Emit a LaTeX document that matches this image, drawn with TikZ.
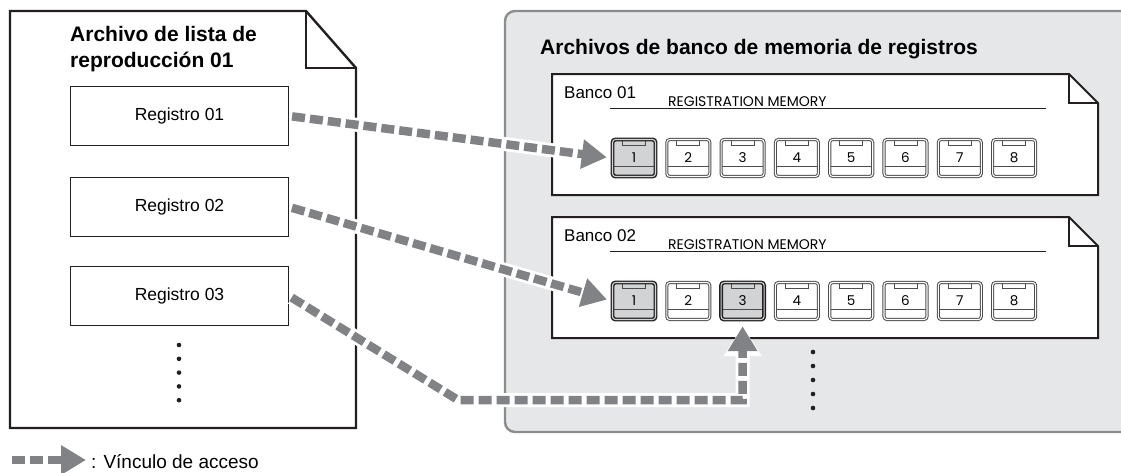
\documentclass[tikz,border=0pt]{standalone}
\usepackage{fontspec}
\setmainfont{Liberation Sans}
\newfontfamily\geofont{Poppins}
\usetikzlibrary{arrows.meta}

\definecolor{inkblack}{HTML}{231F20}
\definecolor{linkgray}{HTML}{808285}
\definecolor{panelgray}{HTML}{E6E7E8}
\definecolor{panelline}{HTML}{8A8C8E}
\definecolor{btngray}{HTML}{D1D3D4}
\definecolor{btnline}{HTML}{4D4D4F}

\begin{document}
\begin{tikzpicture}[x=1pt, y=-1pt,
    doc/.style={draw=inkblack, line width=2.4pt, line join=miter},
    fold/.style={draw=inkblack, line width=1.2pt},
    regbox/.style={draw=inkblack, line width=1.2pt, minimum width=218pt, minimum height=59pt, inner sep=0pt, font=\fontsize{17.5}{20}\selectfont},
    titletext/.style={font=\fontsize{21}{26}\selectfont\bfseries, inner sep=0pt, align=left},
    plain/.style={},
    lit/.style={fill=btngray, double=btngray, draw=inkblack, line width=1.4pt},
    membtn/.style={draw=btnline, line width=1pt, double=white, double distance=1.1pt, fill=white,
        rounded corners=3pt, minimum width=43pt, minimum height=37pt, inner sep=0pt,
        font=\geofont\fontsize{13.5}{15}\selectfont,
        path picture={
            \draw[btnline, line width=0.8pt, sharp corners] ([xshift=-11.5pt,yshift=2pt]path picture bounding box.north) rectangle ([xshift=11.5pt,yshift=-6pt]path picture bounding box.north);
            \draw[btnline, line width=0.8pt, sharp corners] ([yshift=10pt]path picture bounding box.south west) -- ([yshift=10pt]path picture bounding box.south east);
        }},
    link/.style={draw=linkgray, line width=8.5pt, dash pattern=on 13pt off 5pt,
        -{Triangle[length=25pt, width=28pt]},
        preaction={draw=white, solid, line width=14pt, -{Triangle[length=30pt, width=36pt]}}}
]
\useasboundingbox (0,0) rectangle (1121,472);

% gray panel for the bank files
\begin{scope}
    \clip (0,0) rectangle (1121,472);
    \draw[fill=panelgray, draw=panelline, line width=2.4pt, rounded corners=10pt] (505,11) rectangle (1140,432);
\end{scope}
\node[titletext, anchor=base west] (banktitle) at (540,54) {Archivos de banco de memoria de registros};

% playlist file
\draw[doc, fill=white] (10,11) -- (306,11) -- (356,68) -- (356,428) -- (10,428) -- cycle;
\draw[fold] (306,11) |- (356,68);
\node[titletext, anchor=base west] (pltitle) at (70,41) {Archivo de lista de};
\node[titletext, anchor=base west] (pltitle2) at (70,67) {reproducción 01};

\node[regbox] (reg1) at (179.5,116) {Registro 01};
\node[regbox] (reg2) at (179.5,207) {Registro 02};
\node[regbox] (reg3) at (179.5,296) {Registro 03};
\foreach \k in {0,...,4}
    \fill[inkblack] (179,{345+13.8*\k}) circle (2.3pt);

% bank files
\foreach \bk/\ty in {01/74, 02/217} {
    \draw[doc, line width=2pt, fill=white] (552,\ty) -- (1069,\ty) -- (1098,\ty+29) -- (1098,\ty+121) -- (552,\ty+121) -- cycle;
    \draw[fold] (1069,\ty) |- (1098,\ty+29);
    \node[anchor=base west, inner sep=0pt, font=\fontsize{17}{20}\selectfont] (bank\bk) at (564,\ty+24) {Banco \bk};
    \node[anchor=base west, inner sep=0pt, font=\geofont\fontsize{14}{16}\selectfont] (regmem\bk) at (668,\ty+32) {REGISTRATION MEMORY};
    \draw[inkblack, line width=0.9pt] (610,\ty+34) -- (1046,\ty+34);
}
\foreach \n/\sa/\sb in {1/lit/lit, 2/plain/plain, 3/plain/lit, 4/plain/plain, 5/plain/plain, 6/plain/plain, 7/plain/plain, 8/plain/plain} {
    \node[membtn, \sa] (ba\n) at ({634+54.3*(\n-1)},158) {\n};
    \node[membtn, \sb] (bb\n) at ({634+54.3*(\n-1)},301) {\n};
}
\foreach \k in {0,...,4}
    \fill[inkblack] (813,{352+14*\k}) circle (2.3pt);

% access links
\coordinate (bend) at (458,400);
\draw[link, shorten <=3pt, shorten >=5pt] (reg1.east) -- (ba1.west);
\draw[link, shorten <=3pt, shorten >=5pt] (reg2.east) -- (bb1.west);
\draw[link, shorten <=3pt, shorten >=6pt] (reg3.east) -- (bend) -| (bb3.south);

% legend
\coordinate (legfrom) at (12,460);
\coordinate (legto) at (86,460);
\draw[link] (legfrom) -- (legto);
\node[anchor=base west, inner sep=0pt, font=\fontsize{19}{22}\selectfont] (legtext) at (91,468) {: Vínculo de acceso};
\end{tikzpicture}
\end{document}
